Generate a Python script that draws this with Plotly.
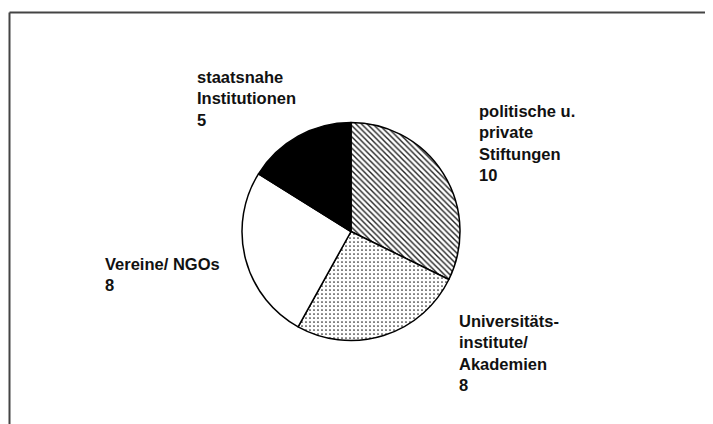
import plotly.graph_objects as go

# page body has an 8px default margin; figure is sized/offset to compensate
OFF = 8
W, H = 713 - OFF, 424 - OFF

categories = ["politische u. private Stiftungen", "Universitätsinstitute/ Akademien", "Vereine/ NGOs", "staatsnahe Institutionen"]
values = [10, 8, 8, 5]
label_texts = [
    "politische u.<br>private<br>Stiftungen<br>10",
    "Universitäts-<br>institute/<br>Akademien<br>8",
    "Vereine/ NGOs<br>8",
    "staatsnahe<br>Institutionen<br>5",
]
fill_colors = ["white", "white", "white", "black"]
pattern_shapes = ["\\", ".", "", ""]

# pixel helpers (screen coords -> paper coords)
def px(x):
    return (x - OFF) / W

def py(y):
    return 1 - (y - OFF) / H

cx, cy, r = 351, 231.5, 109

fig = go.Figure()
fig.add_trace(go.Pie(
    labels=categories,
    values=values,
    sort=False,
    direction="clockwise",
    rotation=0,
    textinfo="none",
    hoverinfo="label+value",
    showlegend=False,
    domain=dict(x=[px(cx - r), px(cx + r)], y=[py(cy + r), py(cy - r)]),
    marker=dict(
        colors=fill_colors,
        line=dict(color="black", width=1.5),
        pattern=dict(shape=pattern_shapes, fgcolor="#222", bgcolor=fill_colors,
                     size=[4, 4, 4, 4], solidity=[0.35, 0.14, 0.3, 0.3]),
    ),
))

label_pos = [(477, 100), (457, 310), (103, 253), (195, 66)]
for (x, y), t in zip(label_pos, label_texts):
    fig.add_annotation(
        x=px(x), y=py(y), xref="paper", yref="paper",
        xanchor="left", yanchor="top", align="left",
        text="<b>" + t + "</b>", showarrow=False,
        font=dict(family="Liberation Sans, Arial, sans-serif", size=16.5, color="#111"),
    )

# frame lines (top and left)
fig.add_shape(type="line", xref="paper", yref="paper",
              x0=px(9.5), y0=-0.01, x1=px(9.5), y1=py(12.5),
              line=dict(color="#444", width=2))
fig.add_shape(type="line", xref="paper", yref="paper",
              x0=px(9.5), y0=py(12.5), x1=1.01, y1=py(12.5),
              line=dict(color="#444", width=2))

fig.update_layout(
    width=W, height=H,
    margin=dict(l=0, r=0, t=0, b=0),
    paper_bgcolor="white", plot_bgcolor="white",
)

fig.write_html("out.html")
